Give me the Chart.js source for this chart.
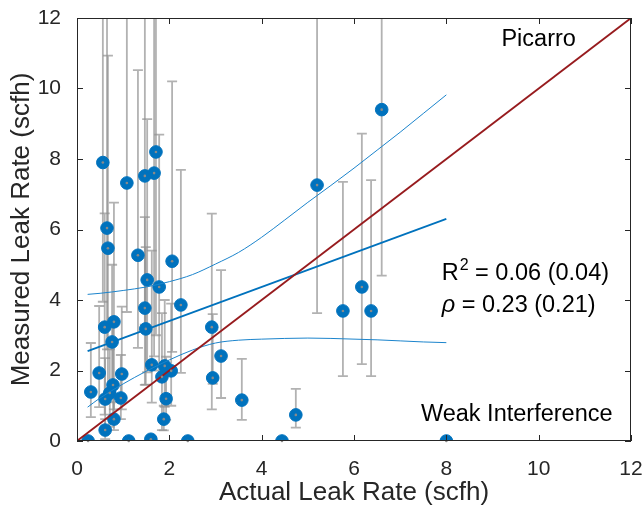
<!DOCTYPE html>
<html lang="en">
<head>
<meta charset="UTF-8">
<title>Picarro leak rate</title>
<script src="https://cdn.jsdelivr.net/npm/chart.js"></script>
<style>
  body { margin: 0; background: #fff; }
  #wrap { width: 644px; height: 514px; }
</style>
</head>
<body>
<div id="wrap"><canvas id="leakChart" width="644" height="514"></canvas></div>
<script>
// measured vs actual, with lower / upper error bounds (15 = off the top)
const actual   = [0.24, 0.30, 0.48, 0.56, 0.60, 0.61, 0.61, 0.65, 0.67, 0.71, 0.76, 0.78, 0.80, 0.80, 0.95, 0.97, 1.08, 1.12, 1.32, 1.47, 1.47, 1.49, 1.52, 1.60, 1.62, 1.67, 1.71, 1.78, 1.84, 1.88, 1.90, 1.93, 2.04, 2.06, 2.25, 2.40, 2.92, 2.94, 3.12, 3.57, 4.44, 4.74, 5.20, 5.76, 6.17, 6.37, 6.60, 8.00];
const measured = [0,    1.39, 1.93, 7.90, 3.23, 1.19, 0.31, 6.04, 5.47, 1.36, 2.81, 1.59, 3.38, 0.62, 1.22, 1.90, 7.32, 0,    5.27, 7.52, 3.77, 3.18, 4.57, 0.05, 2.16, 7.60, 8.20, 4.37, 1.82, 0.62, 2.13, 1.20, 1.99, 5.10, 3.86, 0,    3.23, 1.79, 2.41, 1.16, 0,    0.74, 7.26, 3.69, 4.37, 3.69, 9.40, 0];
const errLow   = [0,    0.68, 0.96, 3.95, 0.75, 0.40, 0.05, 2.60, 1.30, 0.40, 1.20, 0.50, 0.90, 0.31, 0.62, 0.90, 3.66, 0,    2.64, 3.30, 1.59, 1.60, 1.95, 0,    1.09, 2.40, 3.00, 2.00, 0.31, 0.30, 0.97, 0.60, 1.00, 2.53, 1.93, 0,    0.90, 1.62, 1.22, 0.60, 0,    0.38, 3.63, 1.84, 2.18, 1.84, 4.69, 0];
const errHigh  = [0,    2.78, 3.83, 15,   6.46, 2.35, 0.62, 15,   10.93, 2.60, 5.00, 3.50, 6.76, 1.10, 2.44, 3.81, 15,   0,    10.52, 15,  6.35, 5.50, 9.13, 0.10, 5.40, 15,   15,   8.69, 3.63, 1.00, 4.00, 2.39, 3.90, 10.20, 7.69, 0,   6.45, 3.60, 4.85, 2.33, 0,    1.48, 15,   7.35, 8.72, 7.40, 15,   0];

// regression line and its confidence band
const fitX = [0.23, 8];
const fitY = [2.55, 6.3];
const bandX     = [0.23, 0.5,  1,    1.5,  2,    2.5,  3,    3.5,  4,    4.5,  5,    5.5,  6,    6.5,  7,    7.5,  8];
const bandUpper = [4.16, 4.19, 4.27, 4.37, 4.52, 4.72, 5.02, 5.35, 5.78, 6.27, 6.77, 7.25, 7.74, 8.25, 8.76, 9.29, 9.82];
const bandLower = [0.96, 1.22, 1.62, 1.98, 2.30, 2.58, 2.78, 2.86, 2.89, 2.91, 2.92, 2.91, 2.89, 2.87, 2.84, 2.81, 2.79];

const oneToOne = [0, 12];

const FONT = '"Liberation Sans", Arial, Helvetica, sans-serif';
const INK = '#262626';
const BLUE = '#0072BD';

const pts = (xs, ys) => xs.map((v, i) => ({x: v, y: ys[i]}));

const extras = {
    id: 'extras',
    beforeDatasetsDraw(chart) {
        const {ctx, chartArea: a, scales: {x, y}} = chart;
        ctx.save();
        ctx.beginPath();
        ctx.rect(a.left, a.top, a.right - a.left, a.bottom - a.top);
        ctx.clip();
        ctx.strokeStyle = 'rgba(145,145,145,0.7)';
        ctx.lineWidth = 1.8;
        actual.forEach((v, i) => {
            if (errHigh[i] === errLow[i]) return;
            const px = x.getPixelForValue(v);
            const lo = y.getPixelForValue(errLow[i]);
            const hi = y.getPixelForValue(errHigh[i]);
            ctx.beginPath();
            ctx.moveTo(px, lo); ctx.lineTo(px, hi);
            ctx.moveTo(px - 5, lo); ctx.lineTo(px + 5, lo);
            ctx.moveTo(px - 5, hi); ctx.lineTo(px + 5, hi);
            ctx.stroke();
        });
        ctx.restore();
    },
    afterDatasetsDraw(chart) {
        const {ctx, chartArea: a, scales: {x, y}} = chart;
        ctx.save();
        // little grey centre dots
        ctx.fillStyle = '#8a8a8a';
        actual.forEach((v, i) => {
            ctx.beginPath();
            ctx.arc(x.getPixelForValue(v), y.getPixelForValue(measured[i]), 1.3, 0, Math.PI * 2);
            ctx.fill();
        });
        // box + inward ticks
        ctx.strokeStyle = INK;
        ctx.lineWidth = 1;
        ctx.strokeRect(a.left + 0.5, a.top + 0.5, a.right - a.left - 1, a.bottom - a.top - 1);
        ctx.beginPath();
        x.ticks.forEach(t => {
            const px = Math.round(x.getPixelForValue(t.value)) + 0.5;
            ctx.moveTo(px, a.bottom); ctx.lineTo(px, a.bottom - 6);
            ctx.moveTo(px, a.top); ctx.lineTo(px, a.top + 6);
        });
        y.ticks.forEach(t => {
            const py = Math.round(y.getPixelForValue(t.value)) + 0.5;
            ctx.moveTo(a.left, py); ctx.lineTo(a.left + 6, py);
            ctx.moveTo(a.right, py); ctx.lineTo(a.right - 6, py);
        });
        ctx.stroke();

        // annotations
        const big = '23.5px ' + FONT;
        ctx.fillStyle = '#000';
        ctx.textBaseline = 'alphabetic';
        ctx.font = big;
        ctx.textAlign = 'center';
        ctx.fillText('Picarro', x.getPixelForValue(10.0), y.getPixelForValue(11.2));
        ctx.textAlign = 'left';
        ctx.fillText('Weak Interference', x.getPixelForValue(7.45), y.getPixelForValue(0.57));

        let tx = x.getPixelForValue(7.9);
        let ty = y.getPixelForValue(4.57);
        ctx.fillText('R', tx, ty);
        tx += ctx.measureText('R').width + 1;
        ctx.font = '16px ' + FONT;
        ctx.fillText('2', tx, ty - 10);
        tx += ctx.measureText('2').width;
        ctx.font = big;
        ctx.fillText(' = 0.06 (0.04)', tx, ty);

        tx = x.getPixelForValue(7.9);
        ty = y.getPixelForValue(3.67);
        ctx.font = 'italic ' + big;
        ctx.fillText('\u03C1', tx, ty);
        tx += ctx.measureText('\u03C1').width;
        ctx.font = big;
        ctx.fillText(' = 0.23 (0.21)', tx, ty);
        ctx.restore();
    }
};

new Chart('leakChart', {
    type: 'scatter',
    data: {
        datasets: [
            {
                label: 'measurements',
                data: pts(actual, measured),
                backgroundColor: BLUE,
                borderColor: BLUE,
                borderWidth: 1,
                pointRadius: 6.3,
                order: 3
            },
            {
                label: '1:1',
                data: pts(oneToOne, oneToOne),
                showLine: true,
                borderColor: '#971b1e',
                borderWidth: 1.8,
                pointRadius: 0,
                order: 1
            },
            {
                label: 'fit',
                data: pts(fitX, fitY),
                showLine: true,
                borderColor: BLUE,
                borderWidth: 1.8,
                pointRadius: 0,
                order: 2
            },
            {
                label: 'upper',
                data: pts(bandX, bandUpper),
                showLine: true,
                borderColor: '#1b84cc',
                borderWidth: 1,
                cubicInterpolationMode: 'monotone',
                pointRadius: 0,
                order: 2
            },
            {
                label: 'lower',
                data: pts(bandX, bandLower),
                showLine: true,
                borderColor: '#1b84cc',
                borderWidth: 1,
                cubicInterpolationMode: 'monotone',
                pointRadius: 0,
                order: 2
            }
        ]
    },
    options: {
        responsive: false,
        animation: false,
        layout: {padding: {left: 0, right: 13, top: 18, bottom: 0}},
        plugins: {
            legend: {display: false},
            tooltip: {enabled: false}
        },
        scales: {
            x: {
                type: 'linear', min: 0, max: 12,
                grid: {display: false},
                border: {display: false},
                ticks: {stepSize: 2, padding: 8, maxRotation: 0, color: INK, font: {size: 21, family: FONT}},
                title: {display: true, text: 'Actual Leak Rate (scfh)', color: INK,
                        font: {size: 26, family: FONT}, padding: {top: 0, bottom: 6}},
                afterFit(s) { s.height = 73; s.paddingLeft = 0; s.paddingRight = 0; }
            },
            y: {
                type: 'linear', min: 0, max: 12,
                grid: {display: false},
                border: {display: false},
                ticks: {stepSize: 2, padding: 8, color: INK, font: {size: 21, family: FONT}},
                title: {display: true, text: 'Measured Leak Rate (scfh)', color: INK,
                        font: {size: 26, family: FONT}, padding: {top: 6, bottom: 0}},
                afterFit(s) { s.width = 77; s.paddingTop = 0; s.paddingBottom = 0; }
            }
        }
    },
    plugins: [extras]
});
</script>
</body>
</html>
